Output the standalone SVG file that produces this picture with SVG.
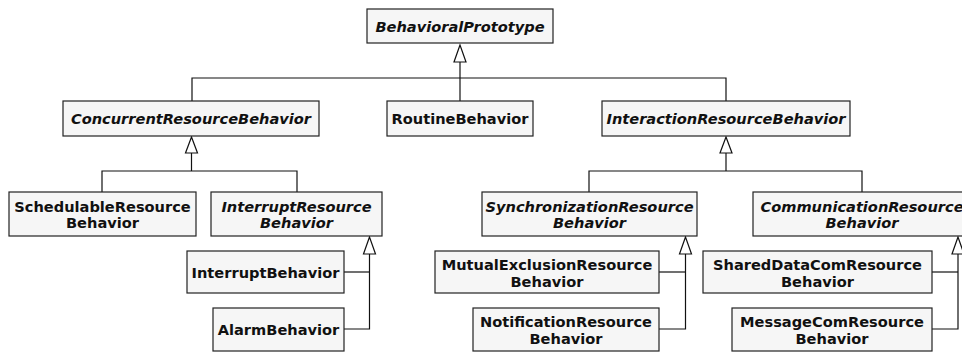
<svg xmlns="http://www.w3.org/2000/svg" width="962" height="354" viewBox="0 0 962 354">
<style>
.box{fill:#f6f6f6;stroke:#222;stroke-width:1.2}
.t{font-family:"DejaVu Sans",sans-serif;font-size:14.6px;font-weight:bold;text-anchor:middle;fill:#111}
.i{font-style:oblique}
.ln{fill:none;stroke:#111;stroke-width:1.2}
.ah{fill:#fff;stroke:#111;stroke-width:1.2}
</style>
<rect width="962" height="354" fill="#fff"/>
<g id="connectors">
<polyline class="ln" points="192,101 192,78 726,78 726,101"/>
<line class="ln" x1="460" y1="62" x2="460" y2="101"/>
<polygon class="ah" points="460,45 454,62 466,62"/>
<polyline class="ln" points="102,192 102,171 297,171 297,192"/>
<line class="ln" x1="191.5" y1="153" x2="191.5" y2="171"/>
<polygon class="ah" points="191.5,137 185.5,153 197.5,153"/>
<polyline class="ln" points="589,192 589,171 862,171 862,192"/>
<line class="ln" x1="726" y1="153" x2="726" y2="171"/>
<polygon class="ah" points="726,137 720,153 732,153"/>
<polyline class="ln" points="344,272 369.5,272"/>
<polyline class="ln" points="344,329 369.5,329 369.5,254"/>
<polygon class="ah" points="369.5,237 363.5,254 375.5,254"/>
<polyline class="ln" points="659,272 685.5,272"/>
<polyline class="ln" points="659,329 685.5,329 685.5,254"/>
<polygon class="ah" points="685.5,237 679.5,254 691.5,254"/>
<polyline class="ln" points="932,272 958,272"/>
<polyline class="ln" points="932,329 958,329 958,254"/>
<polygon class="ah" points="958,237 952,254 964,254"/>
</g>
<g id="BehavioralPrototype"><rect class="box" x="367" y="9" width="186" height="34"/><text class="t i" x="460" y="32">BehavioralPrototype</text></g>
<g id="ConcurrentResourceBehavior"><rect class="box" x="63" y="101" width="256" height="35"/><text class="t i" x="191" y="123.5">ConcurrentResourceBehavior</text></g>
<g id="RoutineBehavior"><rect class="box" x="387" y="101" width="146" height="35"/><text class="t" x="460" y="123.5">RoutineBehavior</text></g>
<g id="InteractionResourceBehavior"><rect class="box" x="602" y="101" width="248" height="35"/><text class="t i" x="726" y="123.5">InteractionResourceBehavior</text></g>
<g id="SchedulableResourceBehavior"><rect class="box" x="9" y="192" width="187" height="44"/><text class="t" x="102.5" y="211.5">SchedulableResource</text><text class="t" x="102.5" y="228">Behavior</text></g>
<g id="InterruptResourceBehavior"><rect class="box" x="211" y="192" width="171" height="44"/><text class="t i" x="296.5" y="211.5">InterruptResource</text><text class="t i" x="296.5" y="228">Behavior</text></g>
<g id="InterruptBehavior"><rect class="box" x="187" y="251" width="157" height="42"/><text class="t" x="265.5" y="277.5">InterruptBehavior</text></g>
<g id="AlarmBehavior"><rect class="box" x="213" y="308" width="131" height="43"/><text class="t" x="278.5" y="334.5">AlarmBehavior</text></g>
<g id="SynchronizationResourceBehavior"><rect class="box" x="482" y="192" width="215" height="44"/><text class="t i" x="589.5" y="211.5">SynchronizationResource</text><text class="t i" x="589.5" y="228">Behavior</text></g>
<g id="MutualExclusionResourceBehavior"><rect class="box" x="435" y="251" width="224" height="42"/><text class="t" x="547" y="270">MutualExclusionResource</text><text class="t" x="547" y="286.5">Behavior</text></g>
<g id="NotificationResourceBehavior"><rect class="box" x="473" y="308" width="186" height="43"/><text class="t" x="566" y="327">NotificationResource</text><text class="t" x="566" y="343.5">Behavior</text></g>
<g id="CommunicationResourceBehavior"><rect class="box" x="753" y="192" width="218" height="44"/><text class="t i" x="862" y="211.5">CommunicationResource</text><text class="t i" x="862" y="228">Behavior</text></g>
<g id="SharedDataComResourceBehavior"><rect class="box" x="703" y="251" width="229" height="42"/><text class="t" x="817.5" y="270">SharedDataComResource</text><text class="t" x="817.5" y="286.5">Behavior</text></g>
<g id="MessageComResourceBehavior"><rect class="box" x="732" y="308" width="200" height="43"/><text class="t" x="832" y="327">MessageComResource</text><text class="t" x="832" y="343.5">Behavior</text></g>
</svg>
